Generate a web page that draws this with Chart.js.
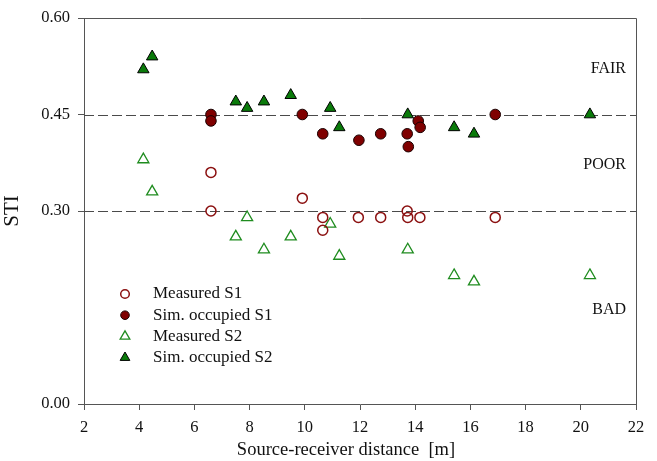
<!DOCTYPE html>
<html>
<head>
<meta charset="utf-8">
<script src="https://cdn.jsdelivr.net/npm/chart.js@4.4.1/dist/chart.umd.min.js"></script>
<style>
html,body{margin:0;padding:0;background:#fff;}
#wrap{width:657px;height:461px;}
</style>
</head>
<body>
<div id="wrap"><canvas id="c" width="657" height="461"></canvas></div>
<script>
// ---- data ----
const measS1X = [6.60, 6.60, 9.91, 10.65, 10.65, 11.94, 12.75, 13.71, 13.73, 14.17, 16.90];
const measS1Y = [0.36, 0.30, 0.32, 0.29, 0.27, 0.29, 0.29, 0.30, 0.29, 0.29, 0.29];
const simS1X  = [6.60, 6.60, 9.91, 10.65, 11.96, 12.75, 13.71, 13.75, 14.11, 14.18, 16.90];
const simS1Y  = [0.45, 0.44, 0.45, 0.42, 0.41, 0.42, 0.42, 0.40, 0.44, 0.43, 0.45];
const measS2X = [4.15, 4.47, 7.50, 7.91, 8.52, 9.49, 10.92, 11.25, 13.73, 15.41, 16.13, 20.33];
const measS2Y = [0.38, 0.33, 0.26, 0.29, 0.24, 0.26, 0.28, 0.23, 0.24, 0.20, 0.19, 0.20];
const simS2X  = [4.15, 4.47, 7.50, 7.91, 8.52, 9.49, 10.92, 11.25, 13.73, 15.41, 16.13, 20.33];
const simS2Y  = [0.52, 0.54, 0.47, 0.46, 0.47, 0.48, 0.46, 0.43, 0.45, 0.43, 0.42, 0.45];
const yTickValues = [0.00, 0.30, 0.45, 0.60];
const thresholds = [0.45, 0.30];
const zoneLabels = ["FAIR", "POOR", "BAD"];
const zoneLabelY = [0.521, 0.372, 0.146];
const seriesNames = ["Measured S1", "Sim. occupied S1", "Measured S2", "Sim. occupied S2"];
const xTitle = "Source-receiver distance  [m]";
const yTitle = "STI";

const pts = (xs, ys) => xs.map((x, i) => ({x: x, y: ys[i]}));
const FONT = "'Liberation Serif', 'Times New Roman', serif";
const AXIS = '#555555';

const datasets = [
  {label: seriesNames[0], data: pts(measS1X, measS1Y), pointStyle: 'circle', pointRadius: 5,
   backgroundColor: 'rgba(255,255,255,0)', borderColor: '#8b1010', borderWidth: 1.5},
  {label: seriesNames[1], data: pts(simS1X, simS1Y), pointStyle: 'circle', pointRadius: 5.3,
   backgroundColor: '#7f0000', borderColor: '#1a0000', borderWidth: 1},
  {label: seriesNames[2], data: pts(measS2X, measS2Y), pointStyle: 'triangle', pointRadius: 6.4,
   backgroundColor: 'rgba(255,255,255,0)', borderColor: '#1f8c1f', borderWidth: 1.3},
  {label: seriesNames[3], data: pts(simS2X, simS2Y), pointStyle: 'triangle', pointRadius: 6.6,
   backgroundColor: '#0a7a0a', borderColor: '#000000', borderWidth: 1}
];

const decor = {
  id: 'decor',
  beforeDatasetsDraw(chart) {
    const {ctx, chartArea: a, scales: {x, y}} = chart;
    ctx.save();
    ctx.strokeStyle = AXIS; ctx.lineWidth = 1;
    ctx.beginPath();
    ctx.moveTo(a.left, a.top + 0.5); ctx.lineTo(a.right + 0.5, a.top + 0.5);
    ctx.lineTo(a.right + 0.5, a.bottom);
    ctx.stroke();
    ctx.setLineDash([10, 4]);
    ctx.strokeStyle = '#4a4a4a';
    thresholds.forEach(v => {
      const py = Math.round(y.getPixelForValue(v)) + 0.5;
      ctx.beginPath(); ctx.moveTo(a.left, py); ctx.lineTo(a.right, py); ctx.stroke();
    });
    ctx.setLineDash([]);
    ctx.fillStyle = '#111'; ctx.font = '16px ' + FONT;
    ctx.textAlign = 'right'; ctx.textBaseline = 'middle';
    zoneLabels.forEach((t, i) => ctx.fillText(t, a.right - 10, y.getPixelForValue(zoneLabelY[i])));
    ctx.restore();
  },
  afterDatasetsDraw(chart) {
    const {ctx, chartArea: a} = chart;
    ctx.save();
    const mx = a.left + 41, tx = a.left + 69, y0 = a.top + 276, dy = 21.2;
    chart.data.datasets.forEach((ds, i) => {
      const cy = y0 + i * dy;
      ctx.fillStyle = ds.backgroundColor; ctx.strokeStyle = ds.borderColor;
      ctx.lineWidth = ds.borderWidth;
      Chart.helpers.drawPoint(ctx, {pointStyle: ds.pointStyle, radius: ds.pointStyle === 'circle' ? 4.3 : 5.6,
        borderWidth: ds.borderWidth}, mx, cy);
      ctx.fillStyle = '#111'; ctx.font = '17px ' + FONT;
      ctx.textAlign = 'left'; ctx.textBaseline = 'middle';
      ctx.fillText(ds.label, tx, cy);
    });
    ctx.fillStyle = '#111';
    ctx.font = '18.5px ' + FONT;
    ctx.textAlign = 'center'; ctx.textBaseline = 'middle';
    ctx.fillText(xTitle, a.left + 262, a.bottom + 46);
    ctx.save();
    ctx.translate(12, a.top + 193);
    ctx.rotate(-Math.PI / 2);
    ctx.font = '21px ' + FONT;
    ctx.fillText(yTitle, 0, 0);
    ctx.restore();
    ctx.restore();
  }
};

new Chart(document.getElementById('c'), {
  type: 'scatter',
  data: {datasets},
  options: {
    responsive: false, animation: false, devicePixelRatio: 1,
    layout: {padding: {top: 18, right: 21, left: 0, bottom: 0}},
    plugins: {legend: {display: false}, tooltip: {enabled: false}},
    scales: {
      x: {
        type: 'linear', min: 2, max: 22,
        ticks: {stepSize: 2, color: '#111', font: {family: FONT, size: 16.5}, padding: 8, maxRotation: 0},
        grid: {drawOnChartArea: false, color: AXIS, tickLength: 6, tickColor: AXIS},
        border: {color: AXIS, width: 1},
        afterFit(s) { s.height = 57; }
      },
      y: {
        type: 'linear', min: 0, max: 0.6,
        afterBuildTicks(s) { s.ticks = yTickValues.map(v => ({value: v})); },
        ticks: {color: '#111', font: {family: FONT, size: 16.5}, padding: 8,
                callback: v => Number(v).toFixed(2)},
        grid: {drawOnChartArea: false, color: AXIS, tickLength: 6, tickColor: AXIS},
        border: {color: AXIS, width: 1},
        afterFit(s) { s.width = 84; }
      }
    }
  },
  plugins: [decor]
});
</script>
</body>
</html>
